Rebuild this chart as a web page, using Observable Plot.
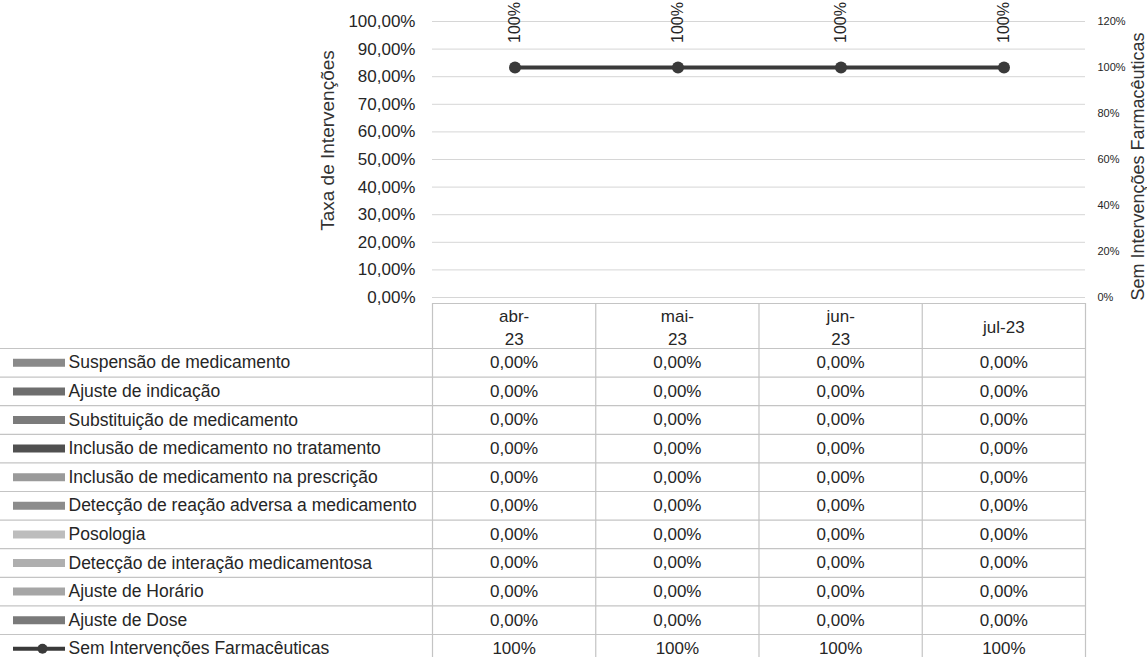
<!DOCTYPE html>
<html>
<head>
<meta charset="utf-8">
<script src="https://cdn.jsdelivr.net/npm/d3@7"></script>
<script src="https://cdn.jsdelivr.net/npm/@observablehq/plot@0.6"></script>
<style>
  html, body { margin: 0; padding: 0; background: #fff; overflow: hidden; }
  #chart svg { display: block; overflow: visible; }
</style>
</head>
<body>
<div id="chart"></div>
<script>
// ---- data ----
const months = ["abr-23", "mai-23", "jun-23", "jul-23"];
const headerLabels = ["abr-\n23", "mai-\n23", "jun-\n23", "jul-23"];
const seriesNames = [
  "Suspensão de medicamento",
  "Ajuste de indicação",
  "Substituição de medicamento",
  "Inclusão de medicamento no tratamento",
  "Inclusão de medicamento na prescrição",
  "Detecção de reação adversa a medicamento",
  "Posologia",
  "Detecção de interação medicamentosa",
  "Ajuste de Horário",
  "Ajuste de Dose"
];
const seriesColors = ["#8a8a8a", "#6e6e6e", "#7b7b7b", "#505050", "#9a9a9a", "#8c8c8c", "#bdbdbd", "#afafaf", "#a6a6a6", "#7a7a7a"];
const seriesValues = [
  [0, 0, 0, 0],
  [0, 0, 0, 0],
  [0, 0, 0, 0],
  [0, 0, 0, 0],
  [0, 0, 0, 0],
  [0, 0, 0, 0],
  [0, 0, 0, 0],
  [0, 0, 0, 0],
  [0, 0, 0, 0],
  [0, 0, 0, 0]
];
const lineName = "Sem Intervenções Farmacêuticas";
const lineColor = "#3a3a3a";
const lineValues = [1, 1, 1, 1];
const leftTicks = [0, 0.1, 0.2, 0.3, 0.4, 0.5, 0.6, 0.7, 0.8, 0.9, 1.0];
const rightTicks = [0, 0.2, 0.4, 0.6, 0.8, 1.0, 1.2];
const rightMax = 1.2;
const leftTitle = "Taxa de Intervenções";
const rightTitle = "Sem Intervenções Farmacêuticas";

// ---- helpers ----
const FONT = "'Liberation Sans', Arial, sans-serif";
const fmt2 = v => (v * 100).toFixed(2).replace(".", ",") + "%";
const fmt0 = v => Math.round(v * 100) + "%";
const W = 1147;

const barData = seriesNames.flatMap((s, k) => months.map((m, i) => ({series: s, month: m, value: seriesValues[k][i]})));
const lineData = months.map((m, i) => ({month: m, value: lineValues[i]}));

// ---- chart ----
const chart = Plot.plot({
  width: W, height: 300,
  marginTop: 21, marginBottom: 3, marginLeft: 432, marginRight: 62,
  style: {fontFamily: FONT, background: "transparent", color: "#262626", overflow: "visible"},
  x: {type: "band", domain: months, padding: 0, axis: null},
  y: {domain: [0, 1], axis: null},
  color: {domain: seriesNames, range: seriesColors},
  marks: [
    Plot.gridY(leftTicks, {stroke: "#d6d6d6", strokeOpacity: 1}),
    Plot.axisY(leftTicks, {anchor: "left", tickSize: 0, tickPadding: 17, fontSize: 17, tickFormat: fmt2, label: null}),
    Plot.axisY(rightTicks.map(v => v / rightMax), {anchor: "right", tickSize: 0, tickPadding: 12, fontSize: 11, tickFormat: d => Math.round(d * rightMax * 100) + "%", label: null}),
    Plot.text([leftTitle], {frameAnchor: "left", textAnchor: "middle", dx: -105, dy: -19, rotate: -90, fontSize: 19, fill: "#333"}),
    Plot.text([rightTitle], {frameAnchor: "right", textAnchor: "middle", dx: 53, dy: 7, rotate: -90, fontSize: 18, fill: "#333"}),
    Plot.barY(barData, {x: "month", y: "value", fill: "series", insetLeft: 40, insetRight: 40}),
    Plot.line(lineData, {x: "month", y: d => d.value / rightMax, stroke: lineColor, strokeWidth: 4}),
    Plot.dot(lineData, {x: "month", y: d => d.value / rightMax, r: 6, fill: lineColor}),
    Plot.text(lineData, {x: "month", y: d => d.value / rightMax, text: d => fmt0(d.value), rotate: -90, dy: -45, fontSize: 16, fill: "#262626"})
  ]
});

// ---- data table ----
const tableRows = [...seriesNames, lineName];
const tableColors = [...seriesColors, lineColor];
const cells = [];
tableRows.forEach((r, k) => months.forEach((m, i) => cells.push({
  row: k, col: i,
  text: k < seriesNames.length ? fmt2(seriesValues[k][i]) : fmt0(lineValues[i])
})));
const rowH = 28.6;
const hdr = 45 / rowH;

const table = Plot.plot({
  width: W, height: 357,
  marginTop: 0, marginBottom: 0, marginLeft: 0, marginRight: 62,
  style: {fontFamily: FONT, background: "transparent", color: "#262626"},
  x: {type: "linear", domain: [0, months.length], range: [432, 1085], axis: null},
  y: {type: "linear", domain: [0, tableRows.length], range: [48, 48 + rowH * tableRows.length], axis: null},
  color: {domain: tableRows, range: tableColors},
  marks: [
    Plot.ruleY(d3.range(0, tableRows.length + 1), {stroke: "#c4c4c4", strokeWidth: 1.2}),
    Plot.ruleY([-hdr], {x1: 0, x2: months.length, stroke: "#c4c4c4", strokeWidth: 1.2}),
    Plot.ruleX(d3.range(0, months.length + 1), {y1: -hdr, y2: tableRows.length, stroke: "#c4c4c4", strokeWidth: 1.2}),
    Plot.text(months, {x: (d, i) => i + 0.5, y: -hdr / 2, text: (d, i) => headerLabels[i], fontSize: 17, lineHeight: 1.35, fill: "#262626"}),
    Plot.text(cells, {x: d => d.col + 0.5, y: d => d.row + 0.5, text: "text", fontSize: 17, fill: "#262626"}),
    Plot.ruleY(seriesNames, {y: (d, i) => i + 0.5, stroke: d => d, strokeWidth: 8, insetLeft: 13, insetRight: 1085 - 65}),
    Plot.ruleY([lineName], {y: seriesNames.length + 0.5, stroke: d => d, strokeWidth: 4, insetLeft: 13, insetRight: 1085 - 65}),
    Plot.dot([lineName], {y: seriesNames.length + 0.5, frameAnchor: "left", dx: 42, r: 5, fill: d => d}),
    Plot.text(tableRows, {y: (d, i) => i + 0.5, frameAnchor: "left", dx: 68, textAnchor: "start", fontSize: 17.5, fill: "#262626"})
  ]
});

document.getElementById("chart").append(chart, table);
</script>
</body>
</html>
